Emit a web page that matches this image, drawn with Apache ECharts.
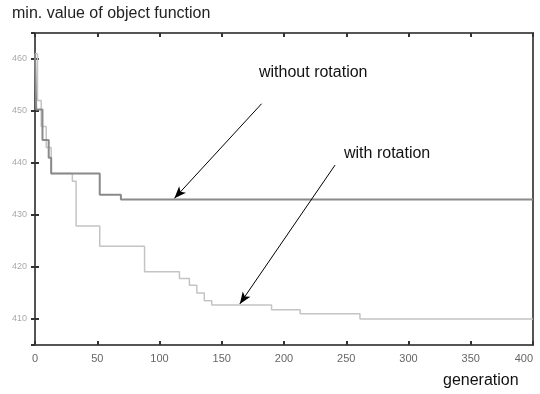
<!DOCTYPE html>
<html>
<head>
<meta charset="utf-8">
<script src="https://cdn.jsdelivr.net/npm/echarts@6/dist/echarts.min.js"></script>
<style>
  html, body { margin: 0; padding: 0; background: #fff; }
  #chart { width: 540px; height: 394px; }
</style>
</head>
<body>
<div id="chart"></div>
<script>
// generation at which the best value changes, and the value from there on
const genNoRot = [0, 1, 6, 11, 13, 52, 69, 400]
const valNoRot = [461, 450.3, 444.4, 441, 438, 433.9, 433, 433]

const genRot = [0, 2, 5, 9, 13, 30, 33, 52, 88, 116, 124, 130, 136, 142, 190, 213, 261, 400]
const valRot = [461, 452, 447, 443, 438, 436.5, 427.9, 424, 419.1, 417.8, 416.5, 415, 413.5, 412.7, 411.8, 411, 410, 410]

const xTicks = [0, 50, 100, 150, 200, 250, 300, 350, 400]
const yMin = 405
const yMax = 465

const pair = (xs, ys) => xs.map((x, i) => [x, ys[i]])

const chart = echarts.init(document.getElementById('chart'))
const frameColor = '#555'
const tickStyle = { show: true, inside: true, length: 4, lineStyle: { color: '#333', width: 2 } }

const option = {
  animation: false,
  backgroundColor: '#fff',
  textStyle: { fontFamily: 'Liberation Sans' },
  grid: {
    left: 35, right: 7, top: 33, bottom: 49,
    outerBoundsMode: 'none',
    containLabel: false,
    show: true, borderColor: frameColor, borderWidth: 2
  },
  xAxis: [
    {
      type: 'value', min: xTicks[0], max: xTicks[xTicks.length - 1], interval: 50,
      axisLine: { show: false },
      axisTick: tickStyle,
      splitLine: { show: false },
      axisLabel: { color: '#666', fontSize: 11, margin: 8, alignMaxLabel: 'right' }
    },
    {
      type: 'value', position: 'top', min: xTicks[0], max: xTicks[xTicks.length - 1], interval: 50,
      axisLine: { show: false },
      axisTick: tickStyle,
      splitLine: { show: false },
      axisLabel: { show: false }
    }
  ],
  yAxis: [
    {
      type: 'value', min: yMin, max: yMax, splitNumber: 6,
      axisLine: { show: false },
      axisTick: tickStyle,
      splitLine: { show: false },
      axisLabel: { color: '#aaa', fontSize: 9, margin: 8, showMinLabel: false, showMaxLabel: false }
    },
    {
      type: 'value', position: 'right', min: yMin, max: yMax, splitNumber: 6,
      axisLine: { show: false },
      axisTick: tickStyle,
      splitLine: { show: false },
      axisLabel: { show: false }
    }
  ],
  series: [
    {
      name: 'with rotation',
      type: 'line',
      step: 'end',
      showSymbol: false,
      lineStyle: { color: '#c4c4c4', width: 1.5 },
      data: pair(genRot, valRot),
      markLine: {
        silent: true,
        symbol: ['none', 'arrow'],
        symbolSize: [7, 12],
        label: { show: false },
        lineStyle: { color: '#000', width: 1, type: 'solid' },
        data: [[{ coord: [241, 439.6] }, { coord: [164.5, 412.9] }]]
      }
    },
    {
      name: 'without rotation',
      type: 'line',
      step: 'end',
      showSymbol: false,
      lineStyle: { color: '#8a8a8a', width: 2 },
      data: pair(genNoRot, valNoRot),
      markLine: {
        silent: true,
        symbol: ['none', 'arrow'],
        symbolSize: [7, 12],
        label: { show: false },
        lineStyle: { color: '#000', width: 1, type: 'solid' },
        data: [[{ coord: [182, 451.4] }, { coord: [112, 433.2] }]]
      }
    }
  ],
  graphic: [
    { type: 'text', left: 12, top: 6, style: { text: 'min. value of object function', fill: '#222', font: '16px "Liberation Sans"' } },
    { type: 'text', left: 443, top: 373, style: { text: 'generation', fill: '#111', font: '16px "Liberation Sans"' } },
    { type: 'text', left: 259, top: 65, style: { text: 'without rotation', fill: '#111', font: '16px "Liberation Sans"' } },
    { type: 'text', left: 344, top: 146, style: { text: 'with rotation', fill: '#111', font: '16px "Liberation Sans"' } }
  ]
}
chart.setOption(option)
</script>
</body>
</html>
